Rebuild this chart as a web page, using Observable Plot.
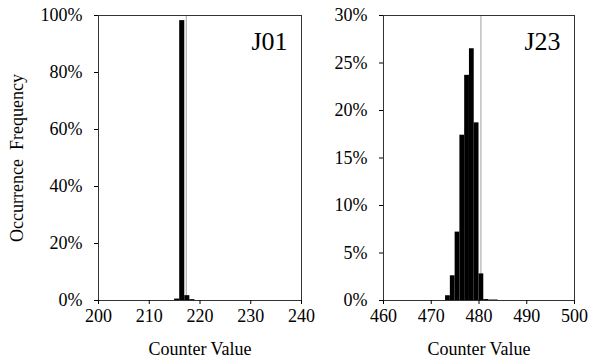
<!DOCTYPE html>
<html>
<head>
<meta charset="utf-8">
<script src="https://cdn.jsdelivr.net/npm/d3@7"></script>
<script src="https://cdn.jsdelivr.net/npm/@observablehq/plot@0.6"></script>
<style>
  html, body { margin: 0; padding: 0; background: #fff; }
  #wrap { position: relative; width: 592px; height: 362px; }
  #left { position: absolute; left: 0; top: 0; }
  #right { position: absolute; left: 305px; top: 0; }
  svg { overflow: visible; }
  svg, svg * { font-family: "Liberation Serif" !important; font-variant: normal !important; }
</style>
</head>
<body>
<div id="wrap"><div id="left"></div><div id="right"></div></div>
<script>
// J01 histogram (counter value bins, occurrence %)
const j01Bins = [215, 216, 217, 218];
const j01Freq = [0.5, 98.2, 1.7, 0.3];
const j01Mean = 217.3;
const j01XTicks = [200, 210, 220, 230, 240];
const j01YTicks = [0, 20, 40, 60, 80, 100];

// J23 histogram
const j23Bins = [473, 474, 475, 476, 477, 478, 479, 480, 481, 482, 483];
const j23Freq = [0.5, 2.6, 7.2, 17.4, 23.7, 26.5, 18.7, 2.8, 0.1, 0.05, 0.05];
const j23Mean = 480.4;
const j23XTicks = [460, 470, 480, 490, 500];
const j23YTicks = [0, 5, 10, 15, 20, 25, 30];

const serif = "Liberation Serif";

function panel({bins, freq, mean, xTicks, yTicks, name, width, marginLeft, marginRight, yLabel}) {
  const data = bins.map((b, i) => ({x1: b, x2: b + 1, y: freq[i]}));
  const svg = Plot.plot({
    width, height: 362,
    marginLeft, marginRight, marginTop: 15, marginBottom: 62,
    style: {fontFamily: serif, fontSize: "18px", color: "#000", background: "transparent"},
    x: {domain: [xTicks[0], xTicks[xTicks.length - 1]]},
    y: {domain: [0, yTicks[yTicks.length - 1]]},
    marks: [
      Plot.ruleX([mean], {stroke: "#b0b0b0", strokeWidth: 1.2}),
      Plot.rectY(data, {x1: "x1", x2: "x2", y: "y", fill: "#000", inset: 0}),
      Plot.ruleY([0], {stroke: "#000"}),
      Plot.frame({stroke: "#333"}),
      Plot.axisX({ticks: xTicks, tickSize: 4, tickPadding: 5, fontFamily: serif, fontVariant: "normal",
                  label: "Counter Value", labelAnchor: "center", labelOffset: 54, labelArrow: "none"}),
      Plot.axisY({ticks: yTicks, tickSize: 4, tickPadding: 12, fontFamily: serif, fontVariant: "normal",
                  tickFormat: d => d + "%", label: yLabel, labelAnchor: "center", labelOffset: 88, labelArrow: "none"}),
      Plot.text([name], {frameAnchor: "top-right", text: d => d, textAnchor: "end", lineAnchor: "middle",
                          dx: -14, dy: 26, fontSize: 26, fontFamily: serif})
    ]
  });
  d3.select(svg).selectAll("text").attr("font-family", serif).style("font-family", serif);
  return svg;
}

document.getElementById("left").appendChild(panel({
  bins: j01Bins, freq: j01Freq, mean: j01Mean, xTicks: j01XTicks, yTicks: j01YTicks,
  name: "J01", width: 305, marginLeft: 98, marginRight: 4, yLabel: "Occurrence  Frequency"
}));
document.getElementById("right").appendChild(panel({
  bins: j23Bins, freq: j23Freq, mean: j23Mean, xTicks: j23XTicks, yTicks: j23YTicks,
  name: "J23", width: 287, marginLeft: 78, marginRight: 18, yLabel: null
}));
</script>
</body>
</html>
